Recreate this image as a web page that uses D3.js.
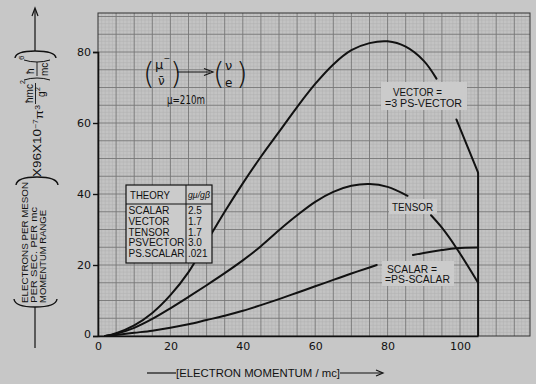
<!DOCTYPE html>
<html lang="en">
<head>
<meta charset="utf-8">
<title>Electron spectrum</title>
<script src="https://cdn.jsdelivr.net/npm/d3@7"></script>
<style>
body { margin: 0; background: #c7c7c7; }
svg { display: block; }
text { font-family: "DejaVu Sans", Arial, sans-serif; fill: #111; }
.narrow { font-family: "Liberation Sans Narrow", "Liberation Sans", Arial, sans-serif; }
</style>
</head>
<body>
<script>

// data
var xTicks = [0, 20, 40, 60, 80, 100];
var yTicks = [0, 20, 40, 60, 80];

var vectorX = [2, 5, 10, 15, 20, 25, 30, 35, 40, 45, 50, 55, 60, 65, 70, 75, 80, 85, 90, 93.5];
var vectorY = [0, 0.8, 3, 6.5, 11.5, 18, 26.5, 35, 43, 50.5, 57.5, 64.5, 71, 76.5, 80.5, 82.5, 83, 81.5, 77.5, 72.5];
var vectorTailX = [99, 105];
var vectorTailY = [61, 46];

var tensorX = [2, 5, 10, 15, 20, 25, 30, 35, 40, 45, 50, 55, 60, 65, 70, 75, 80, 85.5];
var tensorY = [0, 0.6, 2.3, 4.8, 7.8, 11, 14.3, 17.7, 21.3, 25.3, 29.8, 34, 37.8, 40.6, 42.3, 42.8, 42, 39.5];
var tensorTailX = [92, 95, 99, 105];
var tensorTailY = [34, 30.5, 24.8, 15];

var scalarX = [2, 5, 10, 15, 20, 25, 30, 35, 40, 45, 50, 55, 60, 65, 70, 75, 77];
var scalarY = [0, 0.3, 0.9, 1.5, 2.3, 3.3, 4.5, 5.7, 7.1, 8.7, 10.4, 12.2, 14, 15.8, 17.6, 19.3, 20];
var scalarTailX = [87, 90, 95, 99, 105];
var scalarTailY = [22.8, 23.4, 24.2, 24.7, 24.9];

var cutoff = 105;

var theories = ["SCALAR", "VECTOR", "TENSOR", "PSVECTOR", "PS.SCALAR"];
var ratios = ["2.5", "1.7", "1.7", "3.0", ".021"];

var svg = d3.select("body").append("svg")
  .attr("width", 536)
  .attr("height", 384)

var x = d3.scaleLinear().domain([0, 105]).range([98, 478.1]);
var y = d3.scaleLinear().domain([0, 80]).range([336, 52]);
var xMax = x.invert(530), yMax = y.invert(13);

/* graph paper */
svg.append("rect")
  .attr("x", x(0)).attr("y", y(yMax))
  .attr("width", x(xMax) - x(0)).attr("height", y(0) - y(yMax))
  .attr("fill", "#c3c3c3");

var grid = svg.append("g");
grid.selectAll(".mvx").data(d3.range(1, Math.floor(xMax) + 1).filter(function(d){ return d % 5; }))
  .enter().append("line")
  .attr("x1", function(d){ return x(d); }).attr("x2", function(d){ return x(d); })
  .attr("y1", y(0)).attr("y2", y(yMax))
  .attr("stroke", "#b1b1b1").attr("stroke-width", 0.5);
grid.selectAll(".mvy").data(d3.range(1, Math.floor(yMax) + 1).filter(function(d){ return d % 5; }))
  .enter().append("line")
  .attr("x1", x(0)).attr("x2", x(xMax))
  .attr("y1", function(d){ return y(d); }).attr("y2", function(d){ return y(d); })
  .attr("stroke", "#b1b1b1").attr("stroke-width", 0.5);
grid.selectAll(".gx").data(d3.range(5, xMax, 5))
  .enter().append("line")
  .attr("x1", function(d){ return x(d); }).attr("x2", function(d){ return x(d); })
  .attr("y1", y(0)).attr("y2", y(yMax))
  .attr("stroke", "#777").attr("stroke-width", 0.9);
grid.selectAll(".gy").data(d3.range(5, yMax, 5))
  .enter().append("line")
  .attr("x1", x(0)).attr("x2", x(xMax))
  .attr("y1", function(d){ return y(d); }).attr("y2", function(d){ return y(d); })
  .attr("stroke", "#777").attr("stroke-width", 0.9);

svg.append("rect")
  .attr("x", x(0)).attr("y", y(yMax))
  .attr("width", x(xMax) - x(0)).attr("height", y(0) - y(yMax))
  .attr("fill", "none").attr("stroke", "#333").attr("stroke-width", 1);

/* axes */
var xAxis = svg.append("g")
  .attr("transform", "translate(0," + y(0) + ")")
  .call(d3.axisBottom(x).tickValues(xTicks).tickSize(0).tickPadding(6));
var yAxis = svg.append("g")
  .attr("transform", "translate(" + x(0) + ",0)")
  .call(d3.axisLeft(y).tickValues(yTicks).tickSize(5).tickPadding(2));
[xAxis, yAxis].forEach(function(a){
  a.select(".domain").attr("stroke", "#111").attr("stroke-width", 1.6);
  a.selectAll(".tick line").attr("stroke", "#111").attr("stroke-width", 1.4);
  a.selectAll("text").attr("font-size", 11).attr("font-family", "DejaVu Sans").attr("fill", "#111");
});
yAxis.selectAll(".tick").filter(function(d){ return d === 0; }).select("text").attr("dy", "0.1em");

/* label patches */
function patch(x0, y0, w, h) {
  svg.append("rect").attr("x", x0).attr("y", y0).attr("width", w).attr("height", h)
    .attr("fill", "#cbcbcb");
}
patch(381, 82, 86, 28);
patch(389, 199, 48, 15);
patch(382, 261, 72, 25);

/* curves */
var line = d3.line()
  .x(function(d){ return x(d[0]); })
  .y(function(d){ return y(d[1]); })
  .curve(d3.curveCatmullRom.alpha(0.5));

var segments = [
  d3.zip(vectorX, vectorY), d3.zip(vectorTailX, vectorTailY),
  d3.zip(tensorX, tensorY), d3.zip(tensorTailX, tensorTailY),
  d3.zip(scalarX, scalarY), d3.zip(scalarTailX, scalarTailY)
];
svg.selectAll(".curve").data(segments).enter().append("path")
  .attr("class", "curve")
  .attr("d", line)
  .attr("fill", "none")
  .attr("stroke", "#111")
  .attr("stroke-width", 2)
  .attr("stroke-linecap", "round");

svg.append("line")
  .attr("x1", x(cutoff)).attr("x2", x(cutoff))
  .attr("y1", y(0)).attr("y2", y(vectorTailY[vectorTailY.length - 1]))
  .attr("stroke", "#111").attr("stroke-width", 2);

/* curve labels */
function label(t, x0, y0, w) {
  svg.append("text").attr("x", x0).attr("y", y0)
    .attr("font-size", 10).attr("class", "narrow")
    .attr("textLength", w).attr("lengthAdjust", "spacingAndGlyphs")
    .text(t);
}
label("VECTOR =", 393, 96, 49);
label("=3 PS-VECTOR", 385, 107, 77);
label("TENSOR", 392, 211, 41);
label("SCALAR =", 387, 273, 50);
label("=PS-SCALAR", 385, 283, 65);

/* table */
var tab = svg.append("g");
tab.append("rect").attr("x", 126).attr("y", 185).attr("width", 86).attr("height", 78)
  .attr("fill", "#cbcbcb").attr("stroke", "#111").attr("stroke-width", 1.2);
tab.append("line").attr("x1", 126).attr("x2", 212).attr("y1", 204).attr("y2", 204)
  .attr("stroke", "#111").attr("stroke-width", 1);
tab.append("line").attr("x1", 186).attr("x2", 186).attr("y1", 185).attr("y2", 263)
  .attr("stroke", "#111").attr("stroke-width", 1);
tab.append("text").attr("class", "narrow").attr("x", 130).attr("y", 199)
  .attr("font-size", 11).attr("textLength", 40).attr("lengthAdjust", "spacingAndGlyphs").text("THEORY");
tab.append("text").attr("class", "narrow").attr("x", 188).attr("y", 198)
  .attr("font-size", 9).attr("font-style", "italic").attr("textLength", 22).attr("lengthAdjust", "spacingAndGlyphs")
  .text("gμ/gβ");
var rowY = d3.scalePoint().domain(theories).range([214, 257]);
tab.selectAll(".th").data(theories).enter().append("text")
  .attr("class", "narrow")
  .attr("x", 128.5)
  .attr("y", function(d){ return rowY(d); })
  .attr("font-size", 10)
  .attr("textLength", function(d){ return d.length > 6 ? 56 : 41; })
  .attr("lengthAdjust", "spacingAndGlyphs")
  .text(function(d){ return d; });
tab.selectAll(".rv").data(ratios).enter().append("text")
  .attr("class", "narrow")
  .attr("x", 188)
  .attr("y", function(d, i){ return rowY(theories[i]); })
  .attr("font-size", 10)
  .text(function(d){ return d; });

/* reaction formula */
var f = svg.append("g").attr("fill", "#111");
f.append("text").attr("x", 143).attr("y", 84).attr("font-size", 30).attr("font-weight", 200).text("(");
f.append("text").attr("x", 155).attr("y", 69).attr("font-size", 13).text("μ");
f.append("text").attr("x", 163.5).attr("y", 61).attr("font-size", 8).text("−");
f.append("text").attr("x", 158).attr("y", 85).attr("font-size", 12).text("ν̄");
f.append("text").attr("x", 170).attr("y", 84).attr("font-size", 30).attr("font-weight", 200).text(")");
f.append("line").attr("x1", 177).attr("x2", 210).attr("y1", 72).attr("y2", 72)
  .attr("stroke", "#111").attr("stroke-width", 1.2);
f.append("path").attr("d", "M204,68.5 L213,72 L204,75.5").attr("fill", "none").attr("stroke", "#111").attr("stroke-width", 1.2);
f.append("text").attr("x", 213).attr("y", 84).attr("font-size", 30).attr("font-weight", 200).text("(");
f.append("text").attr("x", 225).attr("y", 70).attr("font-size", 13).text("ν");
f.append("text").attr("x", 225).attr("y", 87).attr("font-size", 12).text("e");
f.append("text").attr("x", 236).attr("y", 84).attr("font-size", 30).attr("font-weight", 200).text(")");
f.append("text").attr("x", 167).attr("y", 104).attr("font-size", 12)
  .attr("textLength", 38).attr("lengthAdjust", "spacingAndGlyphs").text("μ=210m");

/* x axis title */
var xt = svg.append("g");
xt.append("line").attr("x1", 147).attr("x2", 176).attr("y1", 373).attr("y2", 373).attr("stroke", "#111").attr("stroke-width", 1.2);
xt.append("text").attr("class", "narrow").attr("x", 176).attr("y", 377).attr("font-size", 11)
  .attr("textLength", 164).attr("lengthAdjust", "spacingAndGlyphs").text("[ELECTRON MOMENTUM / mc]");
xt.append("line").attr("x1", 340).attr("x2", 382).attr("y1", 373).attr("y2", 373).attr("stroke", "#111").attr("stroke-width", 1.2);
xt.append("path").attr("d", "M376,370 L383,373 L376,376").attr("fill", "none").attr("stroke", "#111").attr("stroke-width", 1.2);

/* y axis title, written sideways */
var yt = svg.append("g");
function vtext(t, cx, y0, size, w) {
  var el = yt.append("text")
    .attr("class", "narrow")
    .attr("transform", "translate(" + cx + "," + y0 + ") rotate(-90)")
    .attr("dy", "0.35em")
    .attr("font-size", size)
    .text(t);
  if (w) el.attr("textLength", w).attr("lengthAdjust", "spacingAndGlyphs");
  return el;
}
yt.append("line").attr("x1", 35).attr("x2", 35).attr("y1", 348).attr("y2", 307).attr("stroke", "#111").attr("stroke-width", 1.2);
yt.append("path").attr("d", "M14,299 Q15,307 35,307 Q56,307 57,299").attr("fill", "none").attr("stroke", "#111").attr("stroke-width", 1.4);
vtext("ELECTRONS PER MESON", 24.5, 303, 9, 121);
vtext("PER SEC. PER mc", 33.5, 303, 9, 96);
vtext("MOMENTUM RANGE", 42.5, 303, 9, 93);
yt.append("path").attr("d", "M16,185 Q17,177 37,177 Q57,177 58,185").attr("fill", "none").attr("stroke", "#111").attr("stroke-width", 1.4);
var fm = vtext("", 37, 177, 11);
fm.append("tspan").text("X96X10");
fm.append("tspan").attr("dy", "-0.45em").attr("font-size", 7).text("−7");
fm.append("tspan").attr("dy", "0.45em").text("π");
fm.append("tspan").attr("dy", "-0.45em").attr("font-size", 7).text("3");
fm.attr("textLength", 72).attr("lengthAdjust", "spacingAndGlyphs");
vtext("ħmc", 29, 103, 10);
vtext("2", 23, 84, 7);
yt.append("line").attr("x1", 35.5).attr("x2", 35.5).attr("y1", 104).attr("y2", 83).attr("stroke", "#111").attr("stroke-width", 0.9);
vtext("g", 41.5, 97, 10);
vtext("2", 38, 91, 7);
yt.append("path").attr("d", "M24,80 Q30,78 37,78 Q44,78 50,80").attr("fill", "none").attr("stroke", "#111").attr("stroke-width", 1);
vtext("ħ", 30, 74, 10);
yt.append("line").attr("x1", 37).attr("x2", 37).attr("y1", 76).attr("y2", 62).attr("stroke", "#111").attr("stroke-width", 0.9);
vtext("mc", 44, 76, 10);
yt.append("path").attr("d", "M24,60 Q30,62 37,62 Q44,62 50,60").attr("fill", "none").attr("stroke", "#111").attr("stroke-width", 1);
vtext("6", 21, 60, 8);
yt.append("path").attr("d", "M15,58 Q16,51 35,51 Q55,51 56,58").attr("fill", "none").attr("stroke", "#111").attr("stroke-width", 1.4);
yt.append("line").attr("x1", 35).attr("x2", 35).attr("y1", 51).attr("y2", 9).attr("stroke", "#111").attr("stroke-width", 1.2);
yt.append("path").attr("d", "M32,16 L35,8 L38,16").attr("fill", "none").attr("stroke", "#111").attr("stroke-width", 1.2);

</script>
</body>
</html>
